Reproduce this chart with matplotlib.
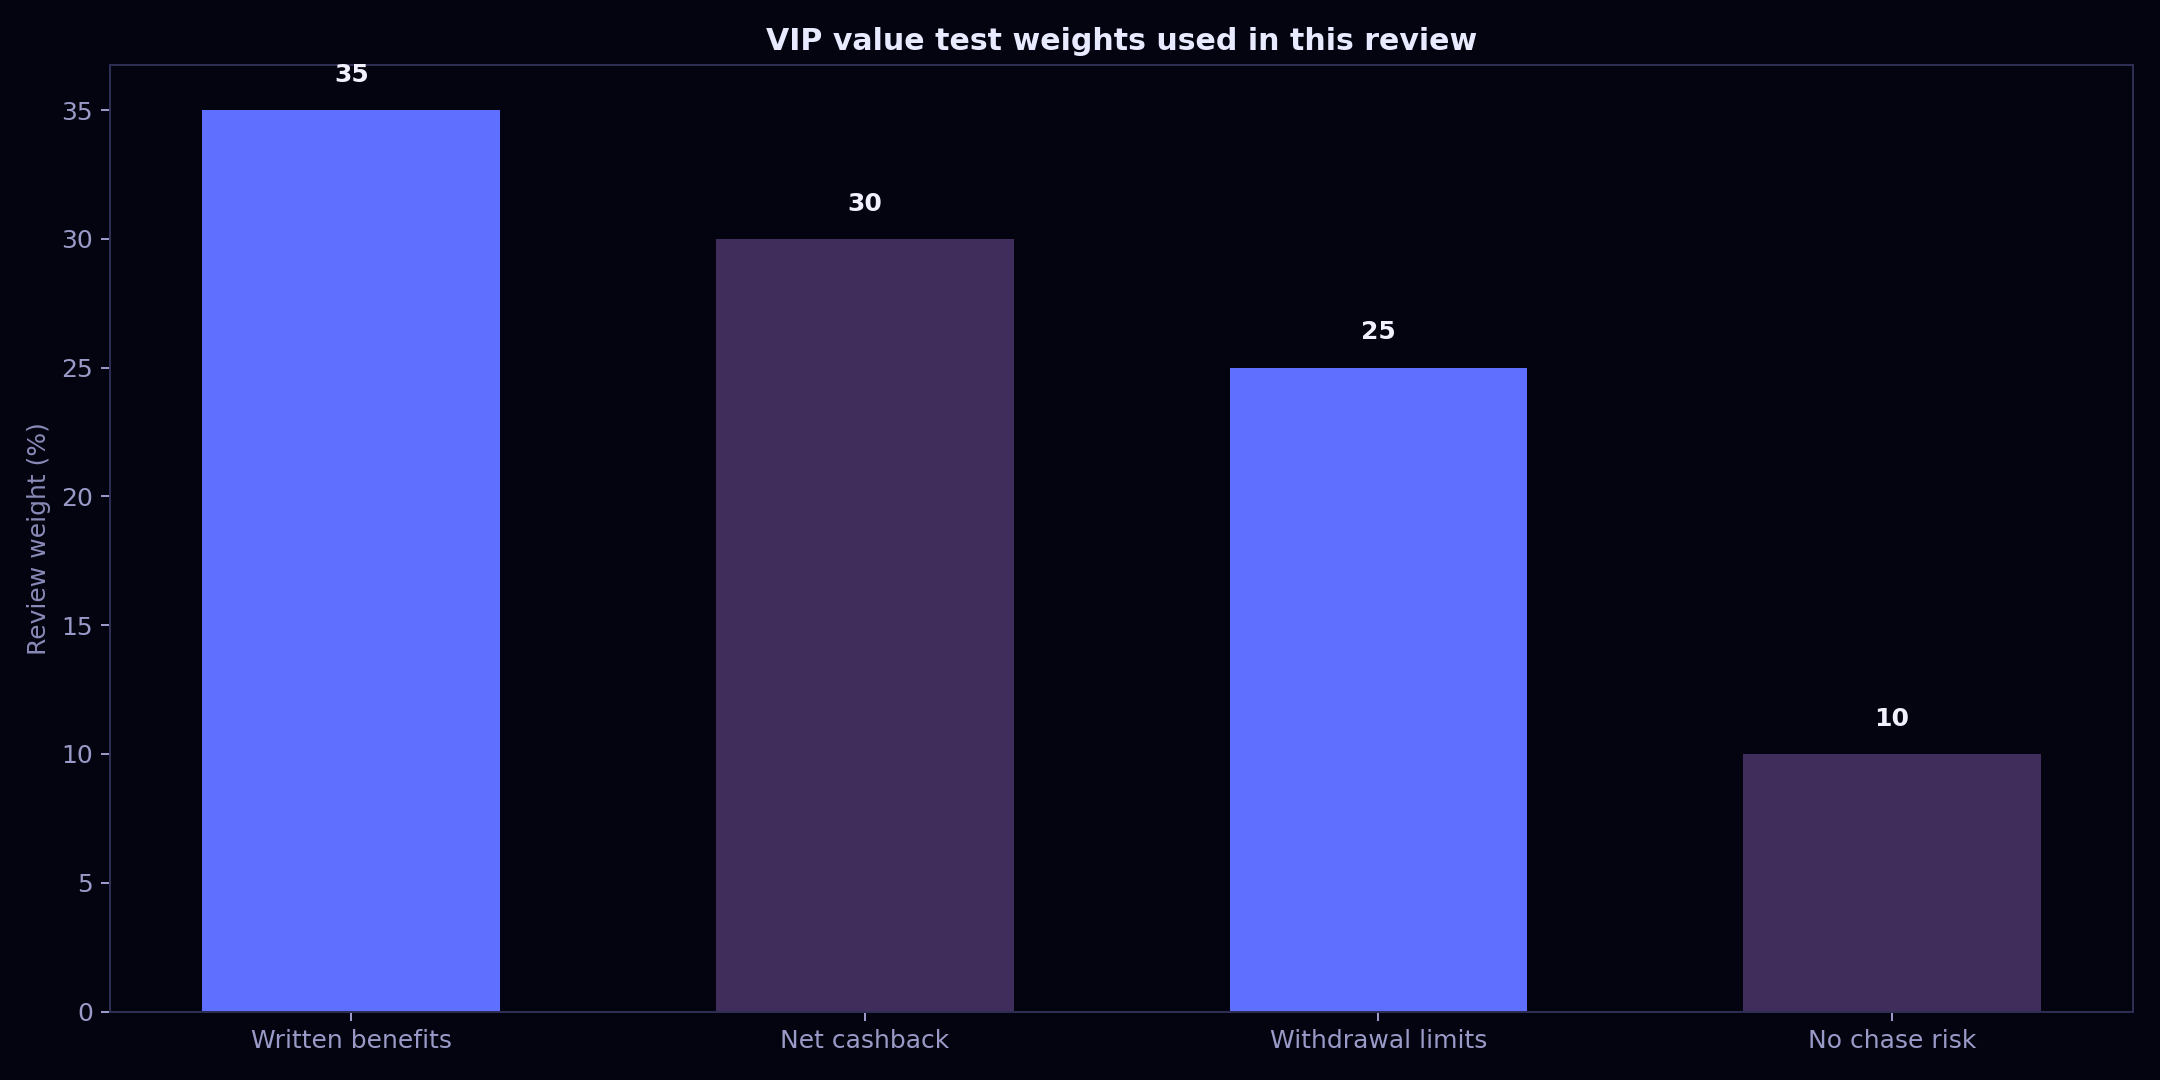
import numpy as np
import matplotlib.pyplot as plt

categories = ["Written benefits", "Net cashback", "Withdrawal limits", "No chase risk"]
weights = [35, 30, 25, 10]

bg = "#03040f"
bar_colors = ["#5f6fff", "#412d5c", "#5f6fff", "#412d5c"]

fig, ax = plt.subplots(figsize=(12, 6), dpi=180)
fig.patch.set_facecolor(bg)
ax.set_facecolor(bg)

x = np.arange(len(categories))
ax.bar(x, weights, width=0.58, color=bar_colors)

for xi, v in zip(x, weights):
    ax.text(xi, v + 0.9, str(v), ha="center", va="bottom",
            color="#f0f0ff", fontsize=10, fontweight="bold")

ax.set_xticks(x)
ax.set_xticklabels(categories)
ax.set_ylim(bottom=0)
ax.set_ylabel("Review weight (%)", color="#8a8ab8", fontsize=10)
ax.set_title("VIP value test weights used in this review", color="#e8eaff",
             fontsize=12, fontweight="bold")

ax.tick_params(colors="#9a9ac8", labelsize=10)
for s in ax.spines.values():
    s.set_color("#2e2e55")

plt.tight_layout()
plt.savefig("out.png", facecolor=bg)
